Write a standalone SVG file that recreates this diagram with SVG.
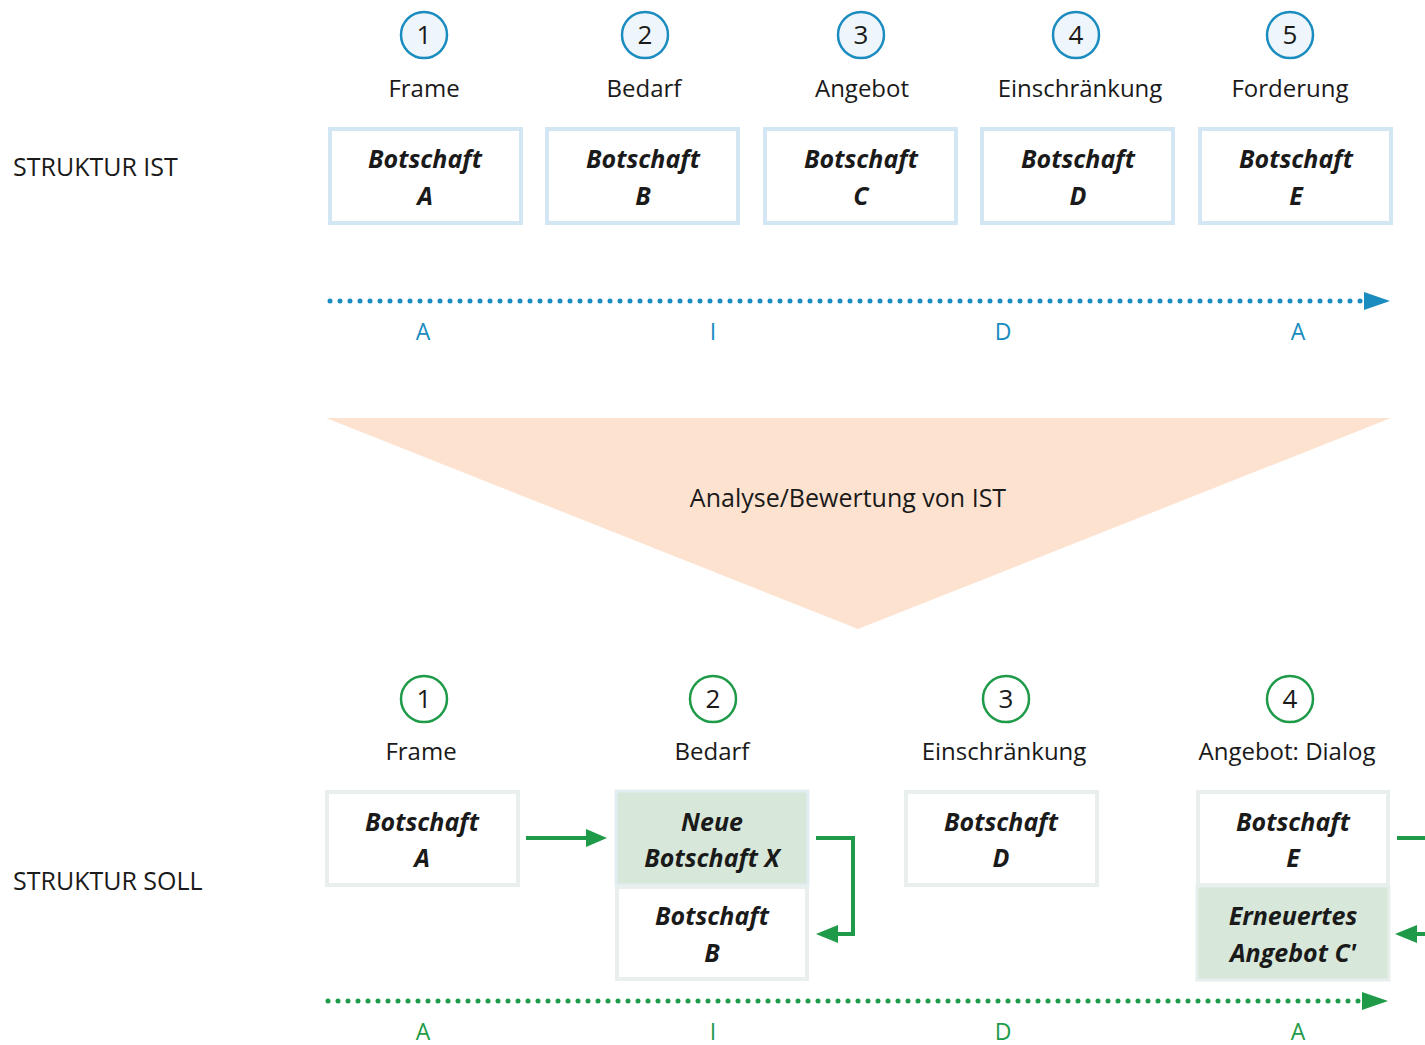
<svg xmlns="http://www.w3.org/2000/svg" width="1425" height="1045" viewBox="0 0 1425 1045">
<style>
text{font-family:"Open Sans","Noto Sans",sans-serif;fill:#1a1a1a}
.lbl{font-size:24px;text-anchor:middle}
.ana{font-size:25px;text-anchor:middle}
.num{font-size:26px;text-anchor:middle}
.bt{font-size:25px;font-weight:bold;font-style:italic;text-anchor:middle}
.side{font-size:25px}
.bl{fill:#1a8cbf;font-size:23px;text-anchor:middle}
.gl{fill:#1e9a48;font-size:23px;text-anchor:middle}
.cb{fill:#eef6fb;stroke:#1a8cbf;stroke-width:2.5}
.cg{fill:#fff;stroke:#1e9a48;stroke-width:2.5}
.boxb{fill:#fff;stroke:#d2e7f3;stroke-width:4}
.boxg{fill:#fff;stroke:#e9efed;stroke-width:4}
.boxx{fill:#d7e7d9;stroke:#e3eef2;stroke-width:3}
.dotb{stroke:#1a8cbf;stroke-width:5;stroke-linecap:round;stroke-dasharray:0 10;fill:none}
.dotg{stroke:#1e9a48;stroke-width:5;stroke-linecap:round;stroke-dasharray:0 10;fill:none}
.ga{stroke:#1e9a48;stroke-width:4;fill:none}
</style>
<rect width="1425" height="1045" fill="#fff"/>
<text class="side" x="13" y="176">STRUKTUR IST</text>
<text class="side" x="13" y="890">STRUKTUR SOLL</text>

<g id="ist1"><circle class="cb" cx="424" cy="35" r="23"/><text class="num" x="424" y="44">1</text><text class="lbl" x="424" y="97">Frame</text><rect class="boxb" x="330" y="129" width="191" height="94"/><text class="bt" x="425" y="168">Botschaft</text><text class="bt" x="425" y="205">A</text></g>
<g id="ist2"><circle class="cb" cx="645" cy="35" r="23"/><text class="num" x="645" y="44">2</text><text class="lbl" x="644" y="97">Bedarf</text><rect class="boxb" x="547" y="129" width="191" height="94"/><text class="bt" x="643" y="168">Botschaft</text><text class="bt" x="643" y="205">B</text></g>
<g id="ist3"><circle class="cb" cx="861" cy="35" r="23"/><text class="num" x="861" y="44">3</text><text class="lbl" x="862" y="97">Angebot</text><rect class="boxb" x="765" y="129" width="191" height="94"/><text class="bt" x="861" y="168">Botschaft</text><text class="bt" x="861" y="205">C</text></g>
<g id="ist4"><circle class="cb" cx="1076" cy="35" r="23"/><text class="num" x="1076" y="44">4</text><text class="lbl" x="1080" y="97">Einschränkung</text><rect class="boxb" x="982" y="129" width="191" height="94"/><text class="bt" x="1078" y="168">Botschaft</text><text class="bt" x="1078" y="205">D</text></g>
<g id="ist5"><circle class="cb" cx="1290" cy="35" r="23"/><text class="num" x="1290" y="44">5</text><text class="lbl" x="1290" y="97">Forderung</text><rect class="boxb" x="1200" y="129" width="191" height="94"/><text class="bt" x="1296" y="168">Botschaft</text><text class="bt" x="1296" y="205">E</text></g>

<g id="timeline-ist"><line class="dotb" x1="330" y1="301" x2="1362" y2="301"/><polygon points="1364,292 1390,301 1364,310" fill="#1a8cbf"/>
<text class="bl" x="423" y="340">A</text><text class="bl" x="713" y="340">I</text><text class="bl" x="1003" y="340">D</text><text class="bl" x="1298" y="340">A</text></g>

<g id="analyse"><polygon points="326,418 1391,418 858,629" fill="#fde2cf"/><text class="ana" x="848" y="507">Analyse/Bewertung von IST</text></g>

<g id="soll1"><circle class="cg" cx="424" cy="699" r="23"/><text class="num" x="424" y="708">1</text><text class="lbl" x="421" y="760">Frame</text><rect class="boxg" x="327" y="792" width="191" height="93"/><text class="bt" x="422" y="831">Botschaft</text><text class="bt" x="422" y="867">A</text></g>
<g id="soll2"><circle class="cg" cx="713" cy="699" r="23"/><text class="num" x="713" y="708">2</text><text class="lbl" x="712" y="760">Bedarf</text><rect class="boxx" x="616" y="791" width="192" height="94"/><text class="bt" x="712" y="831">Neue</text><text class="bt" x="712" y="867">Botschaft X</text><rect class="boxg" x="617" y="887" width="190" height="92"/><text class="bt" x="712" y="925">Botschaft</text><text class="bt" x="712" y="962">B</text></g>
<g id="soll3"><circle class="cg" cx="1006" cy="699" r="23"/><text class="num" x="1006" y="708">3</text><text class="lbl" x="1004" y="760">Einschränkung</text><rect class="boxg" x="906" y="792" width="191" height="93"/><text class="bt" x="1001" y="831">Botschaft</text><text class="bt" x="1001" y="867">D</text></g>
<g id="soll4"><circle class="cg" cx="1290" cy="699" r="23"/><text class="num" x="1290" y="708">4</text><text class="lbl" x="1287" y="760">Angebot: Dialog</text><rect class="boxg" x="1198" y="792" width="190" height="93"/><text class="bt" x="1293" y="831">Botschaft</text><text class="bt" x="1293" y="867">E</text><rect x="1197" y="886" width="192" height="94" fill="#d7e7d9" stroke="#e6efeb" stroke-width="3"/><text class="bt" x="1293" y="925">Erneuertes</text><text class="bt" x="1293" y="962">Angebot C'</text></g>

<g id="connectors">
<line class="ga" x1="526" y1="838" x2="588" y2="838"/><polygon points="586,829 607,838 586,847" fill="#1e9a48"/>
<polyline class="ga" points="816,838 853,838 853,934 836,934"/><polygon points="838,925 816,934 838,943" fill="#1e9a48"/>
<line class="ga" x1="1397" y1="838" x2="1425" y2="838"/>
<line class="ga" x1="1415" y1="934" x2="1425" y2="934"/><polygon points="1417,925 1395,934 1417,943" fill="#1e9a48"/>
</g>

<g id="timeline-soll"><line class="dotg" x1="328" y1="1001" x2="1360" y2="1001"/><polygon points="1362,992 1388,1001 1362,1010" fill="#1e9a48"/>
<text class="gl" x="423" y="1040">A</text><text class="gl" x="713" y="1040">I</text><text class="gl" x="1003" y="1040">D</text><text class="gl" x="1298" y="1040">A</text></g>
</svg>
